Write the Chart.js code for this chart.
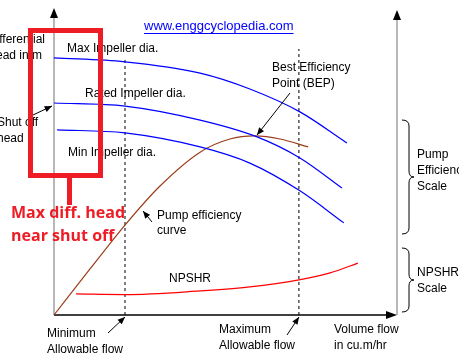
<!DOCTYPE html>
<html><head><meta charset="utf-8">
<script src="https://cdn.jsdelivr.net/npm/chart.js@4/dist/chart.umd.min.js"></script>
<style>html,body{margin:0;padding:0;background:#fff;}canvas{display:block;}</style>
</head><body>
<canvas id="c" width="459" height="362"></canvas>
<script>
// Flow axis 0..100 (relative), head/efficiency axis 0..100 (relative)
const maxImpX = [0, 20.7, 42.6, 57.1, 71.7, 85.4];
const maxImpY = [84.3, 83.0, 79.3, 74.1, 66.6, 56.4];
const ratedImpX = [0, 20.7, 42.6, 59.2, 71.7, 84.0];
const ratedImpY = [69.5, 68.5, 63.9, 58.4, 51.5, 41.6];
const minImpX = [0.9, 20.7, 42.6, 57.1, 71.7, 84.5];
const minImpY = [60.7, 59.7, 55.1, 49.8, 40.7, 30.2];
const effX = [0, 10.5, 20.7, 30.9, 42.6, 51.3, 58.6, 65.9, 74.1];
const effY = [0, 15.1, 29.5, 42.3, 53.4, 57.7, 58.7, 57.7, 55.1];
const npshrX = [6.4, 20.7, 42.6, 57.1, 71.4, 80.5, 88.6];
const npshrY = [6.9, 6.7, 7.9, 9.2, 11.5, 13.8, 17.0];
const minFlow = 20.7, minFlowTop = 83.6;
const maxFlow = 71.4, maxFlowTop = 87.2;

const pts = (xs, ys) => xs.map((x, i) => ({x, y: ys[i]}));
const curve = (xs, ys, color, w) => ({data: pts(xs, ys), borderColor: color, borderWidth: w,
  pointRadius: 0, fill: false, cubicInterpolationMode: 'monotone', clip: false});
const vline = (x, top) => ({data: [{x, y: 0}, {x, y: top}], borderColor: '#000', borderWidth: 1,
  borderDash: [3, 3], pointRadius: 0, fill: false, clip: false});

function arrow(ctx, x1, y1, x2, y2, size) {
  ctx.beginPath(); ctx.moveTo(x1, y1); ctx.lineTo(x2, y2); ctx.stroke();
  const a = Math.atan2(y2 - y1, x2 - x1);
  ctx.beginPath();
  ctx.moveTo(x2, y2);
  ctx.lineTo(x2 - size * Math.cos(a - 0.4), y2 - size * Math.sin(a - 0.4));
  ctx.lineTo(x2 - size * Math.cos(a + 0.4), y2 - size * Math.sin(a + 0.4));
  ctx.closePath(); ctx.fill();
}
function brace(ctx, xL, xS, xT, y1, y2) {
  const ym = (y1 + y2) / 2, r = 6;
  ctx.beginPath();
  ctx.moveTo(xL, y1);
  ctx.quadraticCurveTo(xS, y1, xS, y1 + r);
  ctx.lineTo(xS, ym - r);
  ctx.quadraticCurveTo(xS, ym, xT, ym);
  ctx.quadraticCurveTo(xS, ym, xS, ym + r);
  ctx.lineTo(xS, y2 - r);
  ctx.quadraticCurveTo(xS, y2, xL, y2);
  ctx.stroke();
}

const decor = {
  id: 'decor',
  beforeDatasetsDraw(chart) {
    const ctx = chart.ctx, a = chart.chartArea;
    ctx.save();
    // left axis (gray)
    ctx.strokeStyle = '#888'; ctx.lineWidth = 1.2;
    ctx.beginPath(); ctx.moveTo(a.left, a.bottom); ctx.lineTo(a.left, a.top); ctx.stroke();
    // right axis (gray)
    ctx.beginPath(); ctx.moveTo(a.right, a.bottom); ctx.lineTo(a.right, a.top + 2); ctx.stroke();
    ctx.fillStyle = '#000';
    ctx.beginPath(); ctx.moveTo(a.left, a.top - 2); ctx.lineTo(a.left - 4, a.top + 8); ctx.lineTo(a.left + 4, a.top + 8); ctx.closePath(); ctx.fill();
    ctx.beginPath(); ctx.moveTo(a.right, a.top); ctx.lineTo(a.right - 4, a.top + 10); ctx.lineTo(a.right + 4, a.top + 10); ctx.closePath(); ctx.fill();
    // bottom axis (black)
    ctx.strokeStyle = '#000'; ctx.lineWidth = 1.5;
    ctx.beginPath(); ctx.moveTo(a.left, a.bottom); ctx.lineTo(a.right - 8, a.bottom); ctx.stroke();
    ctx.beginPath(); ctx.moveTo(a.right, a.bottom); ctx.lineTo(a.right - 11, a.bottom - 4); ctx.lineTo(a.right - 11, a.bottom + 4); ctx.closePath(); ctx.fill();
    ctx.restore();
  },
  afterDatasetsDraw(chart) {
    const ctx = chart.ctx;
    ctx.save();
    ctx.fillStyle = '#000'; ctx.strokeStyle = '#000'; ctx.lineWidth = 1;
    ctx.font = '12px "Liberation Sans", Arial, sans-serif';
    ctx.textBaseline = 'middle'; ctx.textAlign = 'left';
    const T = (s, x, y) => ctx.fillText(s, x, y);
    T('Max Impeller dia.', 67, 49);
    T('Rated Impeller dia.', 85, 94);
    T('Min Impeller dia.', 68, 153);
    T('Best Efficiency', 272, 68);
    T('Point (BEP)', 272, 84);
    T('Pump efficiency', 157, 216);
    T('curve', 157, 231);
    T('NPSHR', 169, 279);
    T('Minimum', 47, 334);
    T('Allowable flow', 47, 350);
    T('Maximum', 219, 330);
    T('Allowable flow', 219, 346);
    T('Volume flow', 334, 330);
    T('in cu.m/hr', 334, 346);
    T('Pump', 417, 155);
    T('Efficiency', 417, 171);
    T('Scale', 417, 187);
    T('NPSHR', 417, 273);
    T('Scale', 417, 289);
    ctx.textAlign = 'right';
    T('Differential', 45, 40);
    T('head in m', 42, 56);
    ctx.textAlign = 'left';
    T('Shut off', -3, 123);
    T('head', -3, 139);
    // arrows
    arrow(ctx, 290, 93, 257, 135, 8);
    arrow(ctx, 152, 222, 143, 211, 8);
    arrow(ctx, 108, 333, 125, 317, 8);
    arrow(ctx, 287, 335, 299, 317, 8);
    arrow(ctx, 33, 115, 52, 106, 8);
    // braces
    brace(ctx, 402, 409, 414, 120, 234);
    brace(ctx, 402, 409, 414, 248, 312);
    // url
    ctx.fillStyle = '#0000ff'; ctx.strokeStyle = '#0000ff';
    ctx.font = '13px "Liberation Sans", Arial, sans-serif';
    ctx.textAlign = 'left';
    const url = 'www.enggcyclopedia.com';
    T(url, 144, 26);
    const w = ctx.measureText(url).width;
    ctx.beginPath(); ctx.moveTo(144, 33.5); ctx.lineTo(144 + w, 33.5); ctx.stroke();
    // red highlight
    ctx.strokeStyle = '#ee1c25'; ctx.fillStyle = '#ee1c25'; ctx.lineWidth = 5;
    ctx.strokeRect(30.5, 30.5, 70, 145);
    ctx.beginPath(); ctx.moveTo(69.5, 175); ctx.lineTo(69.5, 205); ctx.stroke();
    ctx.font = 'bold 16px "Open Sans", sans-serif';
    T('Max diff. head', 11, 213);
    T('near shut off', 11, 236);
    ctx.restore();
  }
};

new Chart(document.getElementById('c'), {
  type: 'line',
  data: {
    datasets: [
      curve(maxImpX, maxImpY, '#0000ff', 1.2),
      curve(ratedImpX, ratedImpY, '#0000ff', 1.2),
      curve(minImpX, minImpY, '#0000ff', 1.2),
      curve(effX, effY, '#9b3d1a', 1.2),
      curve(npshrX, npshrY, '#ff0000', 1.2),
      vline(minFlow, minFlowTop),
      vline(maxFlow, maxFlowTop)
    ]
  },
  options: {
    responsive: false, animation: false, devicePixelRatio: 1,
    layout: {padding: {left: 54, right: 62, top: 10, bottom: 47}},
    scales: {
      x: {type: 'linear', min: 0, max: 100, display: false},
      y: {type: 'linear', min: 0, max: 100, display: false}
    },
    plugins: {legend: {display: false}, tooltip: {enabled: false}}
  },
  plugins: [decor]
});
</script>
</body></html>
